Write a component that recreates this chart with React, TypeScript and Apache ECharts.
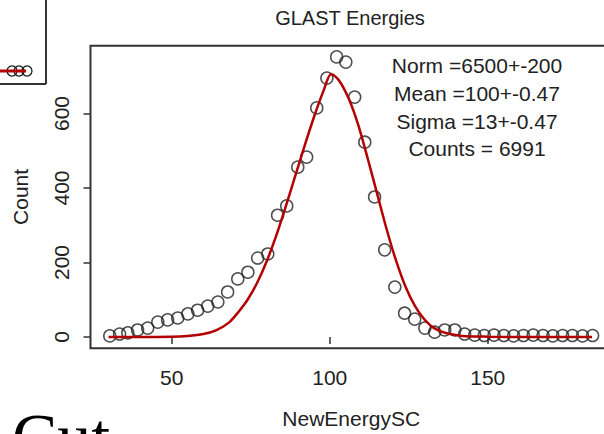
import React, { useEffect, useRef } from "react";
import * as echarts from "echarts";

// Histogram points (bin centre, count)
const energyX = [
  30.4, 33.5, 36.1, 39.2, 42.4, 45.6, 48.7, 51.9, 55.1, 58.2,
  61.4, 64.6, 67.7, 70.9, 74.1, 77.2, 80.4, 83.5, 86.4, 89.9,
  92.7, 95.9, 99.1, 102.2, 105.1, 107.9, 111.1, 114.2, 117.4, 120.6,
  123.7, 126.9, 130.1, 133.2, 136.4, 139.6, 142.7, 145.9, 148.9, 152.0,
  155.1, 158.2, 161.3, 164.4, 167.5, 170.6, 173.7, 176.8, 180.0, 183.2,
];
const counts = [
  3, 8, 11, 19, 24, 40, 46, 51, 62, 72,
  83, 94, 121, 156, 174, 212, 223, 327, 352, 456,
  483, 615, 695, 752, 738, 644, 523, 376, 234, 134,
  64, 48, 24, 13, 19, 19, 8, 5, 4, 5,
  4, 3, 4, 5, 4, 3, 4, 4, 3, 4,
];

// Fitted curve
const fitX = [30, 40, 50, 55, 60, 64, 68, 71, 74, 77, 80, 83, 86, 89, 92, 95, 98, 100.5, 103, 106, 109, 112, 115, 118, 121, 124, 127, 130, 133, 137, 142, 150, 165, 183];
const fitY = [0, 0, 1, 3, 8, 18, 38, 66, 100, 145, 202, 270, 348, 430, 512, 590, 660, 706, 688, 640, 570, 480, 385, 290, 205, 135, 83, 47, 24, 10, 3, 1, 0, 0];

const xTicks = [50, 100, 150];
const yTicks = [0, 200, 400, 600];
const statsLines = ["Norm =6500+-200", "Mean =100+-0.47", "Sigma =13+-0.47", "Counts = 6991"];
const titleText = "GLAST Energies";
const xName = "NewEnergySC";
const yName = "Count";
const cutText = "Cut";

export default function App() {
  const ref = useRef<HTMLDivElement>(null);
  useEffect(() => {
    const chart = echarts.init(ref.current!, null, { renderer: "svg" });
    const font = "'Liberation Sans', Arial, sans-serif";
    const ink = "#222";
    const red = "#b30000";
    const statY = [65, 93, 121, 148];
    chart.setOption({
      animation: false,
      backgroundColor: "#ffffff",
      title: {
        text: titleText,
        left: 345,
        top: 3,
        textAlign: "center",
        textStyle: { fontFamily: font, fontSize: 20, fontWeight: "normal", color: ink },
      },
      grid: {
        left: 90.5,
        top: 45.7,
        width: 521.4,
        height: 302.5,
        outerBoundsMode: "none",
        containLabel: false,
        show: true,
        borderColor: "#333",
        borderWidth: 2,
        backgroundColor: "transparent",
      },
      xAxis: {
        type: "value",
        min: 24.3,
        max: 189.3,
        name: xName,
        nameLocation: "middle",
        nameGap: 60,
        nameTextStyle: { fontFamily: font, fontSize: 21, color: ink },
        axisLine: { show: false },
        splitLine: { show: false },
        axisTick: { show: true, customValues: xTicks, length: 7, lineStyle: { color: "#333", width: 1.5 } },
        axisLabel: { customValues: xTicks, margin: 19, fontFamily: font, fontSize: 21, color: ink },
      },
      yAxis: {
        type: "value",
        min: -30,
        max: 782,
        name: yName,
        nameLocation: "middle",
        nameRotate: 90,
        nameGap: 60,
        nameTextStyle: { fontFamily: font, fontSize: 21, color: ink },
        axisLine: { show: false },
        splitLine: { show: false },
        axisTick: { show: true, customValues: yTicks, length: 7, lineStyle: { color: "#333", width: 1.5 } },
        axisLabel: { customValues: yTicks, rotate: 90, margin: 19, fontFamily: font, fontSize: 21, color: ink },
      },
      series: [
        {
          type: "scatter",
          data: energyX.map((x, i) => [x, counts[i]]),
          symbol: "circle",
          symbolSize: 12,
          itemStyle: { color: "rgba(0,0,0,0)", borderColor: ink, borderWidth: 1.5 },
          z: 2,
        },
        {
          type: "line",
          data: fitX.map((x, i) => [x, fitY[i]]),
          showSymbol: false,
          smooth: 0.3,
          lineStyle: { color: red, width: 2.5 },
          z: 3,
        },
      ],
      graphic: [
        ...statsLines.map((s, i) => ({
          type: "text",
          x: 477,
          y: statY[i],
          style: { text: s, fontFamily: font, fontSize: 21, fill: ink, align: "center", verticalAlign: "middle" },
        })),
        // fragment of a neighbouring plot, top-left
        { type: "line", shape: { x1: 46, y1: 0, x2: 46, y2: 84 }, style: { stroke: "#333", lineWidth: 2 } },
        { type: "line", shape: { x1: 0, y1: 84, x2: 46, y2: 84 }, style: { stroke: "#333", lineWidth: 2 } },
        { type: "circle", shape: { cx: 12, cy: 71, r: 5 }, style: { fill: "none", stroke: ink, lineWidth: 1.3 } },
        { type: "circle", shape: { cx: 19, cy: 71, r: 5 }, style: { fill: "none", stroke: ink, lineWidth: 1.3 } },
        { type: "circle", shape: { cx: 27, cy: 71, r: 5 }, style: { fill: "none", stroke: ink, lineWidth: 1.3 } },
        { type: "line", shape: { x1: 0, y1: 71, x2: 26, y2: 71 }, style: { stroke: red, lineWidth: 3 } },
        // large slide text cut off at the bottom
        {
          type: "text",
          x: 12,
          y: 437,
          style: { text: cutText, fontFamily: "'Liberation Serif', 'Times New Roman', serif", fontSize: 68, fill: "#000", align: "left", verticalAlign: "middle" },
        },
      ],
    });
    return () => chart.dispose();
  }, []);
  return <div ref={ref} style={{ position: "absolute", left: 0, top: 0, width: 604, height: 434 }} />;
}
